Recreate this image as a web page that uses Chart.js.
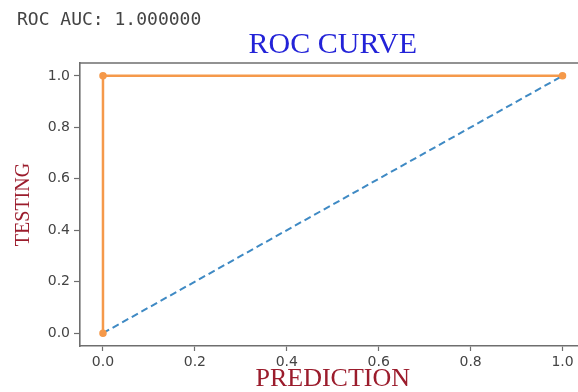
<!DOCTYPE html>
<html>
<head>
<meta charset="utf-8">
<script src="https://cdn.jsdelivr.net/npm/chart.js@4.4.0/dist/chart.umd.min.js"></script>
<style>
  html, body { margin: 0; padding: 0; overflow: hidden; background: #fff; width: 578px; height: 392px; }
  #wrap { position: relative; width: 578px; height: 392px; overflow: hidden; }
  #auc { position: absolute; left: 17px; top: 8px; font-family: "DejaVu Sans Mono", monospace; font-size: 18px; color: #444; white-space: pre; }
  canvas { position: absolute; left: 0; top: 0; }
</style>
</head>
<body>
<div id="wrap">
  <canvas id="roc" width="592" height="392"></canvas>
  <div id="auc">ROC AUC: 1.000000</div>
</div>
<script>
// ROC points (false positive rate / true positive rate)
const fpr = [0.0, 0.0, 1.0];
const tpr = [0.0, 1.0, 1.0];
// chance diagonal
const diagX = [0.0, 1.0];
const diagY = [0.0, 1.0];
const xTicks = [0.0, 0.2, 0.4, 0.6, 0.8, 1.0];
const yTicks = [0.0, 0.2, 0.4, 0.6, 0.8, 1.0];

const axisGray = '#6e6e6e';
const labelRed = '#9b1c2c';

// top spine (matplotlib style box)
const topSpine = {
  id: 'topSpine',
  afterDraw(chart) {
    const { ctx, chartArea } = chart;
    ctx.save();
    ctx.strokeStyle = axisGray;
    ctx.lineWidth = 1.6;
    ctx.beginPath();
    ctx.moveTo(chartArea.left, chartArea.top);
    ctx.lineTo(chartArea.right, chartArea.top);
    ctx.stroke();
    ctx.restore();
  }
};

const ctx = document.getElementById('roc').getContext('2d');
const rocChart = new Chart(ctx, {
  type: 'scatter',
  data: {
    datasets: [
      {
        label: 'chance',
        data: diagX.map((x, i) => ({ x: x, y: diagY[i] })),
        showLine: true,
        borderColor: '#3f8ac4',
        borderWidth: 2,
        borderDash: [7, 4],
        pointRadius: 0,
        order: 1
      },
      {
        label: 'ROC',
        data: fpr.map((x, i) => ({ x: x, y: tpr[i] })),
        showLine: true,
        borderColor: '#f5994a',
        backgroundColor: '#f5994a',
        borderWidth: 2.5,
        pointRadius: 2.5,
        order: 0
      }
    ]
  },
  options: {
    responsive: false,
    animation: false,
    layout: { padding: { top: 0, left: 0, right: 4, bottom: 0 } },
    plugins: {
      legend: { display: false },
      tooltip: { enabled: false },
      title: {
        display: true,
        text: 'ROC CURVE',
        fullSize: false,
        color: '#2323d8',
        font: { family: '"Liberation Serif", "DejaVu Serif", serif', size: 30, weight: 'normal', lineHeight: 1.2 },
        padding: { top: 27, bottom: 0 }
      }
    },
    scales: {
      x: {
        type: 'linear',
        min: -0.05,
        max: 1.05,
        afterBuildTicks: (s) => { s.ticks = xTicks.map(v => ({ value: v })); },
        afterFit: (s) => { s.height = 46; },
        border: { display: true, color: axisGray, width: 1.6 },
        grid: { drawOnChartArea: false, drawTicks: true, tickLength: 5, color: axisGray, tickWidth: 1.2 },
        ticks: {
          color: '#444',
          padding: 3,
          maxRotation: 0,
          font: { family: '"DejaVu Sans", sans-serif', size: 14 },
          callback: (v) => Number(v).toFixed(1)
        },
        title: {
          display: true,
          text: 'PREDICTION',
          color: labelRed,
          font: { family: '"Liberation Serif", "DejaVu Serif", serif', size: 26, lineHeight: 1 },
          padding: { top: 0, bottom: 0 }
        }
      },
      y: {
        type: 'linear',
        min: -0.05,
        max: 1.05,
        afterBuildTicks: (s) => { s.ticks = yTicks.map(v => ({ value: v })); },
        afterFit: (s) => { s.width = 80; },
        border: { display: true, color: axisGray, width: 1.6 },
        grid: { drawOnChartArea: false, drawTicks: true, tickLength: 6, color: axisGray, tickWidth: 1.2 },
        ticks: {
          color: '#444',
          padding: 4,
          font: { family: '"DejaVu Sans", sans-serif', size: 14 },
          callback: (v) => Number(v).toFixed(1)
        },
        title: {
          display: true,
          text: 'TESTING',
          color: labelRed,
          font: { family: '"Liberation Serif", "DejaVu Serif", serif', size: 20, lineHeight: 1.2 },
          padding: { top: 12, bottom: 0 }
        }
      }
    }
  },
  plugins: [topSpine]
});
</script>
</body>
</html>
